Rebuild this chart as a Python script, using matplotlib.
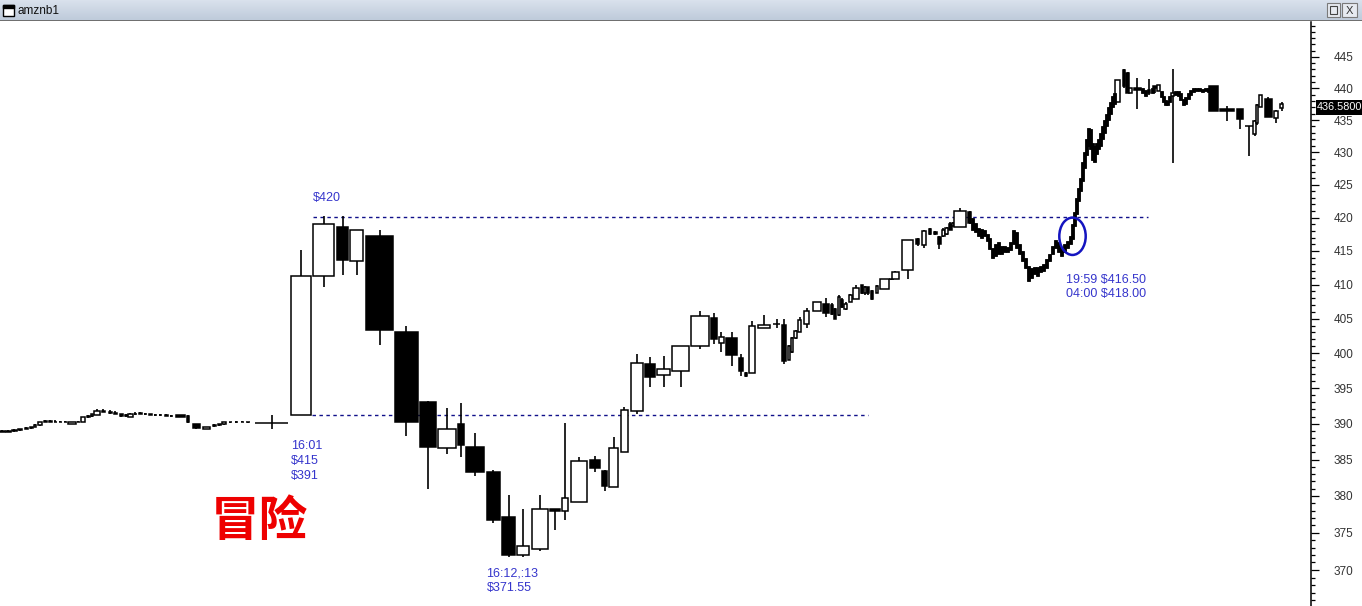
import numpy as np
import matplotlib
matplotlib.use("Agg")
import matplotlib.pyplot as plt
from matplotlib.patches import Ellipse, Rectangle
from matplotlib.colors import LinearSegmentedColormap
from matplotlib.ticker import FixedLocator, FixedFormatter, NullFormatter

plt.rcParams['font.family'] = ['Liberation Sans', 'DejaVu Sans']

# ---------------- data ----------------
window_title = "amznb1"
risk_text = "冒险"
last_price = 436.58

# candles: time position (chart units), duration (bar width), open, high, low, close
# pre-market
pm_t = [2, 8, 14, 20, 26, 31, 35, 40, 45, 50, 55, 60, 65, 72, 78, 83, 88, 92, 97, 103,
        110, 115, 121, 126, 130, 135, 140, 145, 150, 155, 160, 166, 171, 180, 188, 196,
        206, 214, 219, 224, 230, 236, 242, 248, 271.5]
pm_w = [5, 5, 5, 4, 3, 3, 2, 4, 3, 3, 3, 3, 3, 8, 3, 4, 3, 2, 6, 3,
        3, 3, 3, 3, 5, 3, 3, 3, 3, 3, 3, 3, 3, 9, 2, 7, 7, 3, 3, 4, 3, 3, 3, 4, 33]
pm_o = [389.0, 388.9, 389.0, 389.1, 389.3, 389.4, 389.6, 389.8, 390.3, 390.4, 390.3, 390.3,
        390.3, 390.0, 390.3, 390.3, 390.9, 391.1, 391.2, 391.8, 391.6, 391.5, 391.3, 391.1,
        391.0, 391.3, 391.4, 391.4, 391.3, 391.2, 391.2, 391.2, 391.1, 391.2, 391.1, 389.9,
        389.3, 389.7, 389.8, 389.9, 390.2, 390.2, 390.3, 390.3, 390.1]
pm_h = [389.1, 389.1, 389.2, 389.3, 389.6, 389.6, 389.9, 390.3, 390.5, 390.5, 390.5, 390.4,
        390.4, 390.3, 390.4, 391.0, 391.2, 391.4, 392.1, 392.0, 391.9, 391.8, 391.4, 391.3,
        391.5, 391.6, 391.6, 391.5, 391.4, 391.4, 391.3, 391.3, 391.2, 391.2, 391.2, 390.0,
        389.6, 389.9, 390.0, 390.3, 390.3, 390.4, 390.4, 390.3, 391.2]
pm_l = [388.8, 388.8, 388.9, 389.0, 389.2, 389.3, 389.5, 389.7, 390.2, 390.3, 390.2, 390.2,
        390.2, 390.0, 390.2, 390.2, 390.8, 391.0, 391.2, 391.6, 391.4, 391.3, 391.0, 391.0,
        390.9, 391.2, 391.3, 391.2, 391.2, 391.1, 391.1, 391.1, 391.0, 391.0, 390.1, 389.3,
        389.3, 389.6, 389.7, 389.8, 390.1, 390.1, 390.2, 390.1, 389.2]
pm_c = [388.9, 389.0, 389.1, 389.2, 389.4, 389.5, 389.8, 390.2, 390.4, 390.3, 390.3, 390.3,
        390.2, 390.3, 390.3, 390.9, 391.1, 391.3, 391.8, 391.7, 391.5, 391.4, 391.1, 391.2,
        391.4, 391.4, 391.5, 391.3, 391.2, 391.2, 391.2, 391.1, 391.1, 391.0, 390.2, 389.4,
        389.6, 389.8, 389.9, 390.2, 390.2, 390.3, 390.3, 390.2, 390.1]

# regular session / after-hours candles
ss_t = [301, 323.5, 342.5, 356.5, 379.5, 406.3, 428, 447, 461, 475, 493, 508.5, 523, 540, 555,
        565.3, 579.3, 595, 604.5, 613.5, 624, 636.7, 650, 663.5, 680.5, 700, 713.8, 721.3, 731.5,
        741, 746, 752, 764.3, 776.5, 784, 789, 792, 795.5, 799.5, 806.5, 816.7, 826, 832, 835,
        839, 842, 845.5, 850, 856.3, 862, 865, 868, 872, 877, 884.3, 891, 895.3, 907.5, 917.7,
        924, 930, 935, 939, 943.3, 946.5, 950, 953, 960, 969.5]
ss_w = [20, 21, 11, 13, 27, 22.7, 15.7, 17.7, 6, 18, 13, 13, 12.7, 15.3, 10,
        6, 16, 9.7, 4.4, 8.4, 7, 12, 10, 12.3, 16.3, 17.3, 5.7, 4.7, 10.3,
        3.4, 2, 6.3, 12, 7, 3.7, 2.5, 2.5, 2.5, 3, 5.3, 8, 5.7, 2.5, 2.5,
        2.5, 2.5, 2.5, 3, 6, 2.5, 2.5, 2.5, 2.5, 2.5, 8.7, 5, 6.7, 11.7, 3.3,
        3.4, 2.5, 3, 3, 3, 2.5, 3, 2.5, 11.3, 3]
ss_o = [391.2, 411.2, 418.6, 413.5, 417.2, 403.1, 393.1, 386.6, 390.0, 386.8, 383.3, 377.1, 372.0,
        372.8, 378.2, 377.9, 379.1, 385.0, 383.4, 381.2, 386.1, 391.8, 398.5, 396.9, 397.4, 401.1,
        405.1, 401.5, 402.2, 399.3, 397.2, 397.1, 403.7, 404.2, 404.1, 399.1, 400.2, 402.2, 403.1,
        404.2, 406.2, 407.2, 407.0, 406.4, 405.6, 407.8, 406.4, 407.5, 407.9, 409.9, 408.8, 409.6,
        409.0, 408.8, 409.4, 410.8, 410.8, 412.1, 416.8, 415.9, 418.3, 417.8, 417.1, 417.2, 417.5,
        419.1, 418.8, 418.6, 420.8]
ss_h = [415.1, 420.2, 420.2, 418.1, 418.2, 403.9, 393.2, 392.2, 392.9, 388.7, 383.5, 380.1, 378.2,
        380.1, 378.2, 390.1, 385.3, 385.5, 383.6, 388.2, 392.3, 399.9, 399.4, 399.6, 401.0, 406.1,
        405.9, 403.1, 403.1, 399.9, 397.3, 404.6, 405.6, 404.9, 404.9, 401.2, 402.4, 403.4, 405.2,
        406.6, 407.5, 408.1, 407.3, 406.6, 408.5, 408.0, 407.4, 408.6, 409.9, 410.0, 409.8, 409.7,
        409.2, 409.9, 410.9, 410.9, 412.0, 416.7, 417.0, 418.2, 418.5, 418.0, 417.3, 418.4, 418.6,
        419.3, 419.3, 421.5, 421.0]
ss_l = [391.2, 409.6, 411.4, 411.4, 401.2, 388.3, 381.0, 385.8, 385.3, 382.7, 376.3, 371.8, 371.8,
        372.5, 375.3, 376.7, 379.1, 383.3, 380.6, 381.2, 386.1, 391.3, 395.2, 395.2, 395.2, 400.6,
        401.4, 400.2, 398.2, 396.8, 396.6, 397.1, 403.7, 403.7, 398.5, 399.0, 400.0, 402.0, 403.0,
        403.7, 406.2, 405.3, 405.5, 405.0, 405.4, 406.5, 406.3, 407.4, 407.9, 408.6, 408.4, 408.5,
        407.7, 408.7, 409.4, 410.7, 410.8, 410.8, 415.8, 415.4, 417.4, 417.4, 415.3, 417.1, 417.4,
        418.1, 418.7, 418.6, 419.0]
ss_c = [411.2, 419.1, 413.6, 418.1, 403.4, 390.2, 386.7, 389.2, 387.0, 383.3, 376.7, 372.0, 373.2,
        378.2, 378.0, 379.7, 384.8, 383.8, 381.3, 386.6, 391.9, 398.6, 396.6, 397.8, 401.0, 405.4,
        402.0, 402.3, 399.8, 397.5, 396.7, 404.0, 404.1, 404.2, 398.9, 401.0, 402.2, 403.2, 404.8,
        406.2, 407.5, 405.9, 405.7, 405.0, 408.2, 406.7, 407.2, 408.4, 409.5, 408.8, 409.6, 408.7,
        407.9, 409.8, 410.8, 410.8, 411.9, 416.7, 416.0, 418.0, 417.5, 417.5, 416.0, 418.2, 418.5,
        418.2, 419.2, 421.0, 419.2]

# next-morning candles
lt_t = [1117.5, 1123.8, 1127.5, 1130.4, 1137.3, 1149.3, 1155, 1158.3, 1172.7, 1213.5, 1227,
        1239.7, 1249, 1254.5, 1257, 1260.3, 1268.3, 1276.3, 1281.5]
lt_w = [5, 2.5, 3, 2.7, 6.7, 2, 4, 2.5, 2.5, 8.4, 14.3, 6, 8.3, 2.5, 2.5, 3.3, 6.7, 4, 2.5]
lt_o = [437.8, 442.9, 442.5, 439.3, 440.1, 439.8, 440.3, 439.5, 438.8, 440.3, 436.8, 436.8, 434.1,
        432.8, 434.5, 437.1, 438.3, 435.4, 436.9]
lt_h = [441.3, 443.0, 442.6, 440.1, 441.6, 441.5, 440.4, 440.6, 443.1, 440.3, 437.2, 436.8, 434.1,
        435.0, 437.5, 439.0, 438.6, 436.6, 437.8]
lt_l = [437.8, 440.0, 439.2, 439.3, 436.8, 439.0, 439.3, 439.5, 428.4, 436.4, 434.8, 433.6, 429.4,
        432.5, 434.3, 437.0, 435.5, 434.5, 436.5]
lt_c = [441.3, 440.4, 439.3, 440.1, 439.7, 439.2, 440.1, 440.6, 439.2, 436.4, 436.4, 435.2, 434.0,
        434.8, 437.3, 439.0, 435.5, 436.5, 437.6]

# dense tick-bar stretches: time, low, high
dn_t = [972, 975, 978, 981, 984, 987, 989, 992, 995, 998, 1001, 1004, 1007, 1010, 1013, 1016,
        1019, 1022, 1025, 1028, 1031, 1034, 1037, 1040, 1043, 1046, 1049, 1052, 1055, 1058,
        1061, 1064, 1067, 1070, 1072, 1074, 1076, 1078, 1080, 1082, 1084, 1086, 1088, 1090,
        1092, 1094, 1096, 1098, 1100, 1102, 1104, 1106, 1108, 1110, 1112, 1114,
        1142, 1145, 1152, 1161, 1163, 1165, 1167, 1169, 1175, 1178, 1180.5, 1183, 1185.5,
        1188, 1190.5, 1193, 1196, 1199, 1202, 1205, 1208]
dn_lo = [418.2, 417.8, 417.2, 417.0, 417.2, 416.5, 415.3, 414.0, 414.3, 414.6, 414.6, 414.8,
         414.8, 415.2, 416.0, 415.5, 414.5, 413.5, 412.5, 410.5, 411.0, 411.5, 411.2, 411.8,
         412.0, 412.4, 413.5, 414.5, 415.5, 414.8, 414.2, 414.8, 415.5, 416.0, 416.8, 418.8,
         420.5, 422.5, 424.0, 425.5, 427.5, 429.5, 431.0, 430.5, 428.8, 428.5, 429.8, 430.5,
         431.0, 432.0, 433.0, 434.0, 435.0, 436.0, 437.0, 437.5,
         439.3, 438.8, 439.2, 438.6, 437.8, 437.3, 437.3, 437.8, 439.0, 438.8, 438.2, 437.3,
         437.6, 438.3, 439.0, 439.4, 439.5, 439.6, 439.4, 439.5, 439.4]
dn_hi = [420.0, 419.2, 418.4, 418.3, 418.2, 417.6, 417.0, 415.5, 416.0, 416.3, 415.8, 415.7,
         415.6, 416.3, 418.2, 417.8, 416.0, 415.0, 414.0, 412.8, 412.5, 412.6, 412.6, 412.8,
         413.0, 413.8, 414.6, 415.8, 416.6, 416.4, 415.6, 416.0, 416.5, 417.2, 419.0, 420.8,
         423.0, 424.5, 426.0, 428.5, 430.0, 432.0, 433.8, 433.6, 431.5, 431.0, 431.5, 432.0,
         433.0, 434.0, 435.0, 436.0, 437.0, 437.8, 438.8, 439.3,
         440.0, 439.8, 440.0, 439.6, 438.8, 438.2, 438.0, 438.8, 439.6, 439.5, 439.2, 438.3,
         438.6, 439.3, 439.8, 440.0, 440.0, 440.1, 439.9, 440.0, 440.1]

# reference levels: price, start time, end time
lvl_p = [420.1, 391.2]
lvl_t0 = [313, 312]
lvl_t1 = [1148, 868]

# circled breakout: centre time, centre price, time span, price span
circ_t, circ_p, circ_dt, circ_dp = 1072.5, 417.2, 26.4, 5.6

# annotations (text lines)
ann_420 = ["$420"]
ann_gap = ["16:01", "$415", "$391"]
ann_low = ["16:12,:13", "$371.55"]
ann_brk = ["19:59 $416.50", "04:00 $418.00"]

# axis ticks
major_ticks = list(range(370, 446, 5))
minor_ticks = list(range(366, 451, 1))

# ---------------- figure ----------------
W, H = 1362, 606
fig = plt.figure(figsize=(W / 100, H / 100), dpi=100)
fig.patch.set_facecolor('white')


def fx(x):
    return x / W


def fy(y):
    return 1 - y / H


ax = fig.add_axes([0, 0, 1311 / W, (H - 22) / H])
ax.set_facecolor('white')
ax.set_yscale('log')
ax.set_xlim(0, 1311)
ax.set_ylim(365.24, 450.62)

t = np.array(pm_t + ss_t + lt_t, dtype=float)
w = np.array(pm_w + ss_w + lt_w, dtype=float)
o = np.array(pm_o + ss_o + lt_o)
h = np.array(pm_h + ss_h + lt_h)
l = np.array(pm_l + ss_l + lt_l)
c = np.array(pm_c + ss_c + lt_c)
up = c >= o
blo = np.minimum(o, c)
bhi = np.maximum(o, c)

ax.vlines(t, l, h, color='black', lw=1.2, zorder=2)
ax.bar(t, bhi - blo, width=w, bottom=blo, color=np.where(up, 'white', 'black'),
       edgecolor='black', linewidth=1.1, zorder=3)

dlo = np.array(dn_lo)
dhi = np.array(dn_hi)
ax.bar(dn_t, dhi - dlo, width=3.0, bottom=dlo, color='black', linewidth=0.6,
       edgecolor='black', zorder=3)

for p, a, b in zip(lvl_p, lvl_t0, lvl_t1):
    ax.hlines(p, a, b, colors='#10108a', linestyles=(0, (2.5, 2.5)), lw=1.0, zorder=1)

ax.add_patch(Ellipse((circ_t, circ_p), circ_dt, circ_dp, fill=False,
                     edgecolor='#1414c0', lw=1.8, zorder=5))

# axis
ax.yaxis.set_major_locator(FixedLocator(major_ticks))
ax.yaxis.set_major_formatter(FixedFormatter([str(v) for v in major_ticks]))
ax.yaxis.set_minor_locator(FixedLocator(minor_ticks))
ax.yaxis.set_minor_formatter(NullFormatter())
ax.yaxis.tick_right()
ax.tick_params(axis='y', which='major', length=6, width=0.9, direction='out', pad=10.5,
               labelsize=8.5, labelcolor='#333333', color='black')
ax.tick_params(axis='y', which='minor', length=3, width=0.9, direction='out', color='black')
for lab in ax.get_yticklabels():
    lab.set_family(['Liberation Sans Narrow', 'Liberation Sans', 'DejaVu Sans'])
ax.tick_params(axis='x', which='both', bottom=False, labelbottom=False)
for s in ['left', 'top', 'bottom']:
    ax.spines[s].set_visible(False)
ax.spines['right'].set_linewidth(1.1)

# annotations
txt_col = '#3535cc'
fig.text(fx(313), fy(198.5), ann_420[0], color=txt_col, fontsize=9, va='center', ha='left')
for i, s in enumerate(ann_gap):
    fig.text(fx(291), fy(445.7 + 15 * i), s, color=txt_col, fontsize=9, va='center', ha='left')
for i, s in enumerate(ann_low):
    fig.text(fx(486.5), fy(574 + 14.5 * i), s, color=txt_col, fontsize=9, va='center', ha='left')
for i, s in enumerate(ann_brk):
    fig.text(fx(1065.5), fy(279.5 + 15 * i), s, color=txt_col, fontsize=9, va='center', ha='left')

fig.text(fx(259), fy(522), risk_text, color='#ee0000', fontsize=35, fontweight='bold',
         family=['Noto Sans CJK SC', 'DejaVu Sans'], ha='center', va='center')

# last price box
fig.patches.append(Rectangle((fx(1316), fy(115)), (1362 - 1316) / W, 15 / H,
                             transform=fig.transFigure, facecolor='black', edgecolor='none', zorder=5))
fig.text(fx(1339), fy(107.5), f"{last_price:.4f}", color='white', fontsize=7.8,
         family=['Liberation Sans Narrow', 'Liberation Sans', 'DejaVu Sans'],
         ha='center', va='center', zorder=6)

# window title bar
tb = fig.add_axes([0, fy(20), 1, 20 / H])
tb.set_xlim(0, W)
tb.set_ylim(20, 0)
tb.axis('off')
grad = np.linspace(0, 1, 20)[:, None]
cmap = LinearSegmentedColormap.from_list('tb', ['#d9e1ec', '#bfcbdb'])
tb.imshow(grad, cmap=cmap, extent=[0, W, 20, 0], aspect='auto', zorder=0)
tb.add_patch(Rectangle((3, 5), 11, 11, facecolor='white', edgecolor='black', lw=1.0, zorder=2))
tb.add_patch(Rectangle((3, 5), 11, 3, facecolor='black', edgecolor='black', lw=1.0, zorder=2))
tb.text(17, 10.5, window_title, fontsize=8.5, color='#101010', va='center', ha='left', zorder=3)
tb.add_patch(Rectangle((1327, 3), 13, 14, facecolor='#e6eaf0', edgecolor='#7a7a7a', lw=0.8, zorder=2))
tb.add_patch(Rectangle((1330, 6), 7, 8, facecolor='none', edgecolor='#444444', lw=0.8, zorder=3))
tb.add_patch(Rectangle((1342, 3), 15, 14, facecolor='#e6eaf0', edgecolor='#7a7a7a', lw=0.8, zorder=2))
tb.text(1349.5, 10.5, 'X', fontsize=8, color='#333333', va='center', ha='center', zorder=3)
fig.patches.append(Rectangle((0, fy(21)), 1, 1.2 / H, transform=fig.transFigure,
                             facecolor='#707070', edgecolor='none', zorder=4))

fig.savefig('out.png', dpi=100, facecolor='white')
